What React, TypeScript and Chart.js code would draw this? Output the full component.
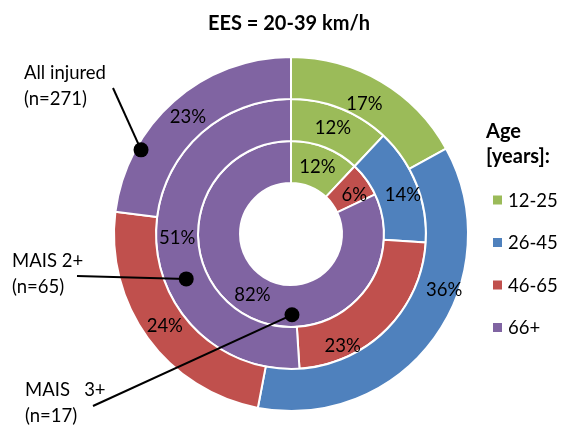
import React, { useEffect, useRef } from "react";
import { Chart, registerables } from "chart.js";

Chart.register(...registerables);

// Age groups and the share (%) of each group per injury severity level
const ageGroups = ["12-25", "26-45", "46-65", "66+"];
const allInjured = [17, 36, 24, 23];
const mais2Plus = [12, 14, 23, 51];
const mais3Plus = [12, 0, 6, 82];

const ringNames = ["All injured", "MAIS 2+", "MAIS   3+"];
const ringCounts = [271, 65, 17];

const ageColors = ["#9BBB59", "#4F81BD", "#C0504D", "#8064A2"];

const FONT = "Lato, 'Open Sans', 'Liberation Sans', sans-serif";

// Hand-placed labels that sit away from the segment centre
const labelNudges: Record<string, [number, number]> = {
  "0-0": [-6, 4],
  "0-1": [27, -36],
  "1-1": [6, 3],
  "1-2": [-29, 31],
  "2-2": [5, 3],
};

// Callouts: text block, line start, and anchor inside the ring (angle from top, depth in ring)
const callouts = [
  { ring: 0, textX: 24, textY: 79, lineX: 113, lineY: 88, angle: 299.3, depth: 0.88 },
  { ring: 1, textX: 12, textY: 267, lineX: 77, lineY: 276, angle: 246.8, depth: 0.5 },
  { ring: 2, textX: 25, textY: 396, lineX: 93, lineY: 406, angle: 179.3, depth: 0.71 },
];

const overlayPlugin = {
  id: "overlay",
  afterDatasetsDraw(chart: any) {
    const ctx: CanvasRenderingContext2D = chart.ctx;
    ctx.save();

    // percentage labels on each segment
    ctx.fillStyle = "#000";
    ctx.font = `18.5px ${FONT}`;
    ctx.textAlign = "center";
    ctx.textBaseline = "middle";
    chart.data.datasets.forEach((ds: any, di: number) => {
      const meta = chart.getDatasetMeta(di);
      meta.data.forEach((arc: any, i: number) => {
        const v = ds.data[i];
        if (!v) return;
        const p = arc.getCenterPoint();
        const n = labelNudges[`${di}-${i}`] || [0, 0];
        ctx.fillText(`${v}%`, p.x + n[0], p.y + n[1]);
      });
    });

    // title
    ctx.font = `bold 20px ${FONT}`;
    ctx.textBaseline = "alphabetic";
    ctx.fillText("EES = 20-39 km/h", 289, 30);

    // legend
    ctx.textAlign = "left";
    ctx.fillText("Age", 486, 138);
    ctx.fillText("[years]:", 486, 163);
    ctx.font = `18.5px ${FONT}`;
    ctx.textBaseline = "middle";
    ageGroups.forEach((g, i) => {
      const y = 200 + i * 42.5;
      ctx.fillStyle = ageColors[i];
      ctx.fillRect(493, y - 4.5, 9, 9);
      ctx.fillStyle = "#000";
      ctx.fillText(g, 508, y + 1);
    });

    // callouts pointing into the rings
    ctx.textBaseline = "alphabetic";
    ctx.strokeStyle = "#000";
    ctx.lineWidth = 2;
    callouts.forEach((c) => {
      const meta = chart.getDatasetMeta(c.ring);
      const arc: any = meta.data[0];
      const cx = arc.x;
      const cy = arc.y;
      const inner = arc.innerRadius;
      const outer = arc.outerRadius;
      const r = inner + (outer - inner) * c.depth;
      const a = (c.angle * Math.PI) / 180;
      const dx = cx + r * Math.sin(a);
      const dy = cy - r * Math.cos(a);
      ctx.beginPath();
      ctx.moveTo(c.lineX, c.lineY);
      ctx.lineTo(dx, dy);
      ctx.stroke();
      ctx.beginPath();
      ctx.arc(dx, dy, 7.5, 0, Math.PI * 2);
      ctx.fillStyle = "#000";
      ctx.fill();
      ctx.fillText(ringNames[c.ring], c.textX, c.textY);
      ctx.fillText(`(n=${ringCounts[c.ring]})`, c.textX, c.textY + 26);
    });

    ctx.restore();
  },
};

export default function App() {
  const canvasRef = useRef<HTMLCanvasElement | null>(null);

  useEffect(() => {
    if (!canvasRef.current) return;
    const chart = new Chart(canvasRef.current, {
      type: "doughnut",
      data: {
        labels: ageGroups,
        datasets: [
          { label: ringNames[0], data: allInjured, backgroundColor: ageColors },
          { label: ringNames[1], data: mais2Plus, backgroundColor: ageColors },
          { label: ringNames[2], data: mais3Plus, backgroundColor: ageColors },
        ],
      },
      options: {
        responsive: false,
        animation: false,
        radius: 177,
        cutout: "28.8%",
        borderColor: "#ffffff",
        borderWidth: 2,
        layout: { padding: { left: 13, right: 0, top: 43, bottom: 0 } },
        plugins: {
          legend: { display: false },
          tooltip: { enabled: false },
          title: { display: false },
        },
      } as any,
      plugins: [overlayPlugin],
    });
    return () => chart.destroy();
  }, []);

  return (
    <div style={{ position: "absolute", left: 0, top: 0, width: 569, height: 425, background: "#fff" }}>
      <canvas ref={canvasRef} width={569} height={425} />
    </div>
  );
}
